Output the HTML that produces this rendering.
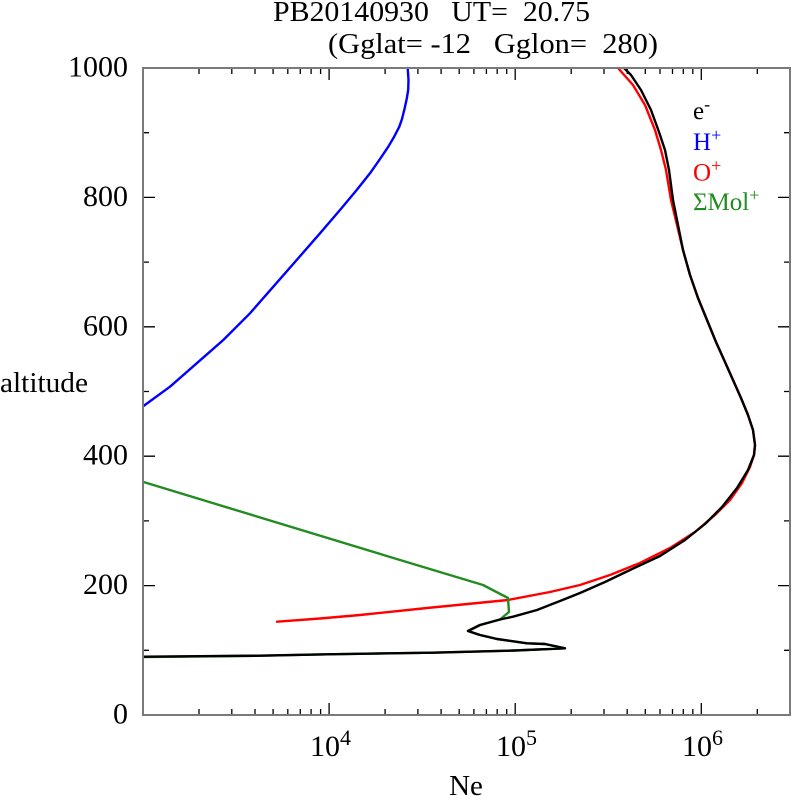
<!DOCTYPE html>
<html>
<head>
<meta charset="utf-8">
<style>
  html, body { margin: 0; padding: 0; background: #ffffff; }
  svg { display: block; }
  text { font-family: "Liberation Serif", "DejaVu Serif", serif; }
</style>
</head>
<body>
<svg width="792" height="796" viewBox="0 0 792 796" xmlns="http://www.w3.org/2000/svg">
  <rect x="0" y="0" width="792" height="796" fill="#ffffff"/>

  <!-- Title -->
  <text x="273" y="21" font-size="29" textLength="317" lengthAdjust="spacingAndGlyphs" xml:space="preserve">PB20140930   UT=  20.75</text>
  <text x="328" y="53" font-size="29" textLength="330" lengthAdjust="spacingAndGlyphs" xml:space="preserve">(Gglat= -12   Gglon=  280)</text>

  <!-- Ticks -->
  <g stroke="#000" stroke-width="1.3" fill="none">
    <path d="M143 585.6h12 M143 456.2h12 M143 326.8h12 M143 197.4h12
             M790 585.6h-12 M790 456.2h-12 M790 326.8h-12 M790 197.4h-12"/>
    <path d="M143 650.3h6 M143 520.9h6 M143 391.5h6 M143 262.1h6 M143 132.7h6
             M790 650.3h-6 M790 520.9h-6 M790 391.5h-6 M790 262.1h-6 M790 132.7h-6"/>
    <path d="M329.1 715v-12 M515.2 715v-12 M701.3 715v-12
             M329.1 68v12 M515.2 68v12 M701.3 68v12"/>
    <path d="M199 715v-6 M231.8 715v-6 M255 715v-6 M273.1 715v-6 M287.8 715v-6 M300.3 715v-6 M311.1 715v-6 M320.6 715v-6
             M385.1 715v-6 M417.9 715v-6 M441.1 715v-6 M459.2 715v-6 M473.9 715v-6 M486.4 715v-6 M497.2 715v-6 M506.7 715v-6
             M571.2 715v-6 M604 715v-6 M627.2 715v-6 M645.3 715v-6 M660 715v-6 M672.5 715v-6 M683.3 715v-6 M692.8 715v-6
             M757.3 715v-6"/>
    <path d="M199 68v6 M231.8 68v6 M255 68v6 M273.1 68v6 M287.8 68v6 M300.3 68v6 M311.1 68v6 M320.6 68v6
             M385.1 68v6 M417.9 68v6 M441.1 68v6 M459.2 68v6 M473.9 68v6 M486.4 68v6 M497.2 68v6 M506.7 68v6
             M571.2 68v6 M604 68v6 M627.2 68v6 M645.3 68v6 M660 68v6 M672.5 68v6 M683.3 68v6 M692.8 68v6
             M757.3 68v6"/>
  </g>

  <!-- Curves -->
  <g fill="none" stroke-width="2.4" stroke-linejoin="round" stroke-linecap="round">
    <polyline stroke="#0000ff" points="407.7,68 408.5,80 408.2,90 406.7,99 404.5,109 402,119 399.3,126.7 394,137 388.3,146.7 379.3,160 370,173.3 356.7,190 340,210 320,233.3 296.7,260 273.3,286.7 250,313.3 223.3,340 196.7,363.3 170,386.7 143.5,406"/>
    <polyline stroke="#ff0000" points="277,621.7 320,618.5 360,615 427,608 508,600 550,592 580,585 610,575 640,563 670,548 695,532 715,515 730,500 742,483 750,467 754,455 755,445 753,430 748,415 741,398 733,380 725,362 716,342 707,320 698,298 690,275 683,250 677,225 671,200 666,170 661,150 655,130 645,105 633,85 618,68"/>
    <polyline stroke="#228b22" points="143.5,482 400,560 483,585 508,598 509,612 500,619.5 480,625 468,631 480,635 497,639 527,643.3 545,644 565,648.3 515,650.5 433,652.7 327,654.3 260,655.7 143.5,657"/>
    <polyline stroke="#000000" points="143.5,656.7 260,655.7 327,654.3 433,652.7 515,650.5 565,648.3 545,644 527,643.3 497,639 480,635 468,631 480,625 500,619.5 513,616.7 537,610 560,601 580,593 605,582 630,570 660,556 685,540 705,524 722,507 737,488 748,470 754,455 755,445 753,430 748,415 741,398 733,380 725,362 716,342 707,320 698,298 690,275 683,250 678,225 673,200 669,170 665,150 659,132 651,110 641,90 631,75 624,68"/>
  </g>

  <!-- Frame -->
  <rect x="143" y="68" width="647" height="647" fill="none" stroke="#7a7a7a" stroke-width="2"/>

  <!-- Y labels -->
  <g font-size="30" text-anchor="end">
    <text x="128" y="76.5">1000</text>
    <text x="128" y="205.9">800</text>
    <text x="128" y="335.3">600</text>
    <text x="128" y="464.7">400</text>
    <text x="128" y="594.1">200</text>
    <text x="128" y="723.5">0</text>
  </g>
  <text x="0" y="392" font-size="29" textLength="88" lengthAdjust="spacingAndGlyphs">altitude</text>

  <!-- X labels -->
  <g font-size="30">
    <text x="310" y="756">10<tspan font-size="22" dy="-11">4</tspan></text>
    <text x="496" y="756">10<tspan font-size="22" dy="-11">5</tspan></text>
    <text x="682" y="756">10<tspan font-size="22" dy="-11">6</tspan></text>
  </g>
  <text x="466" y="795" font-size="29" text-anchor="middle">Ne</text>

  <!-- Legend -->
  <g font-size="25">
    <text x="693" y="119" fill="#000000">e<tspan font-size="18" dy="-9">-</tspan></text>
    <text x="693" y="150" fill="#0000ff">H<tspan font-size="18" dy="-9">+</tspan></text>
    <text x="693" y="180.5" fill="#ff0000">O<tspan font-size="18" dy="-9">+</tspan></text>
    <text x="693" y="210" fill="#228b22">ΣMol<tspan font-size="18" dy="-9">+</tspan></text>
  </g>
</svg>
</body>
</html>
